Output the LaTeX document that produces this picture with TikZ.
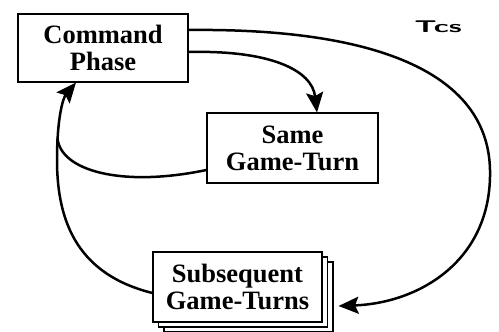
\documentclass[tikz,border=0pt]{standalone}
\usepackage{fontspec}
\usepackage{graphicx}
\setmainfont{Liberation Serif}
\usetikzlibrary{arrows.meta}
\begin{document}
\begin{tikzpicture}[x=1pt,y=-1pt,
  box/.style={draw=black,line width=1.1pt,fill=white,align=center,inner sep=0pt,
    font=\fontsize{26.5}{27}\selectfont\bfseries},
  layer/.style={draw=black,line width=1.1pt,fill=white},
  conn/.style={line width=2.5pt,draw=black},
  tip/.style={-{Stealth[length=20pt,width=17pt,inset=3.5pt]}}]
\useasboundingbox (0,0) rectangle (499,332);
% stacked layers behind "Subsequent Game-Turns"
\node[layer,minimum width=169pt,minimum height=70pt] (subs3) at (248.5,297) {};
\node[layer,minimum width=169pt,minimum height=70pt] (subs2) at (243,292) {};
\node[box,minimum width=169pt,minimum height=70pt] (subs) at (237.5,287) {Subsequent\\Game-Turns};
\node[box,minimum width=170pt,minimum height=68pt] (cmd) at (103,48) {Command\\Phase};
\node[box,minimum width=171pt,minimum height=70pt] (same) at (292.5,148) {Same\\Game-Turn};
\node[font=\fontsize{17}{17}\selectfont\sffamily\bfseries] (tcs) at (438,27) {\scalebox{1.8}[1]{Tcs}};
% connectors
\coordinate (m) at (57,160);
\draw[conn,tip] ([yshift=18pt]cmd.east) .. controls (370,28) and (488,70) .. (490,170)
  .. controls (492,260) and (420,303) .. ([xshift=5pt,yshift=-9pt]subs3.east);
\draw[conn,tip] ([yshift=-4pt]cmd.east) .. controls (270,50) and (312,70) .. ([xshift=24.5pt]same.north);
\draw[conn] ([yshift=-22pt]same.west) .. controls (120,188) and (60,170) .. (57.5,138);
\draw[conn,tip] ([yshift=-6pt]subs.west) .. controls (80,275) and (57,225) .. (m)
  .. controls (57,118) and (63,98) .. ([xshift=-27pt]cmd.south);
\end{tikzpicture}
\end{document}
